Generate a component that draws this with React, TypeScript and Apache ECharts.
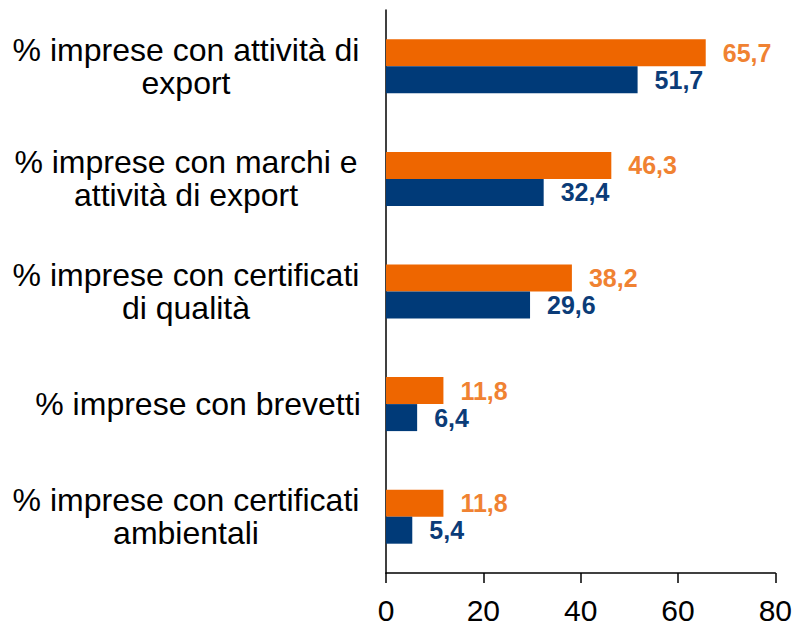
import React, { useEffect, useRef } from "react";
import * as echarts from "echarts";

const categories = [
  "% imprese con certificati\nambientali",
  "% imprese con brevetti",
  "% imprese con certificati\ndi qualità",
  "% imprese con marchi e\nattività di export",
  "% imprese con attività di\nexport",
];
const blueValues = [5.4, 6.4, 29.6, 32.4, 51.7];
const orangeValues = [11.8, 11.8, 38.2, 46.3, 65.7];
const xTicks = [0, 20, 40, 60, 80];

const fmt = (v: number) => v.toFixed(1).replace(".", ",");

export default function App() {
  const ref = useRef<HTMLDivElement>(null);
  useEffect(() => {
    const chart = echarts.init(ref.current!, null, { renderer: "svg" });
    const font = "'Liberation Sans', Arial, sans-serif";
    const labelStyle = {
      fontSize: 32,
      lineHeight: 33,
      color: "#000",
      fontFamily: font,
      align: "center",
    };
    chart.setOption({
      animation: false,
      backgroundColor: "#ffffff",
      grid: { left: 386, right: 19, top: 10, bottom: 52, containLabel: false },
      xAxis: {
        type: "value",
        min: xTicks[0],
        max: xTicks[xTicks.length - 1],
        interval: 20,
        splitLine: { show: false },
        axisLine: { show: true, lineStyle: { color: "#000", width: 1.5 } },
        axisTick: { show: true, length: 10, lineStyle: { color: "#000", width: 1.5 } },
        axisLabel: { color: "#000", fontSize: 30, fontFamily: font, margin: 22 },
      },
      yAxis: {
        type: "category",
        data: categories,
        axisLine: { show: true, lineStyle: { color: "#000", width: 1.5 } },
        axisTick: { show: false },
        axisLabel: {
          margin: 25,
          formatter: (v: string) => {
            const lines = v.split("\n");
            if (lines.length === 1) return `{c|${lines[0]}}`;
            return lines.map((l) => `{a|${l}}`).join("\n");
          },
          rich: {
            a: { ...labelStyle, width: 350 },
            c: { ...labelStyle, width: 326, padding: [0, 0, 0, 24] },
          },
        },
      },
      series: [
        {
          type: "bar",
          data: orangeValues,
          barWidth: 27,
          barGap: "0%",
          itemStyle: { color: "#EE6600" },
          label: {
            show: true,
            position: "right",
            distance: 17,
            formatter: (p: any) => fmt(p.value),
            color: "#F08232",
            fontSize: 25,
            fontWeight: "bold",
            fontFamily: font,
          },
        },
        {
          type: "bar",
          data: blueValues,
          barWidth: 27,
          barGap: "0%",
          itemStyle: { color: "#003A78" },
          label: {
            show: true,
            position: "right",
            distance: 17,
            formatter: (p: any) => fmt(p.value),
            color: "#0B3C78",
            fontSize: 25,
            fontWeight: "bold",
            fontFamily: font,
          },
        },
      ],
    });
    return () => chart.dispose();
  }, []);
  return <div ref={ref} style={{ width: 795, height: 625, position: "absolute", left: 0, top: 0 }} />;
}
